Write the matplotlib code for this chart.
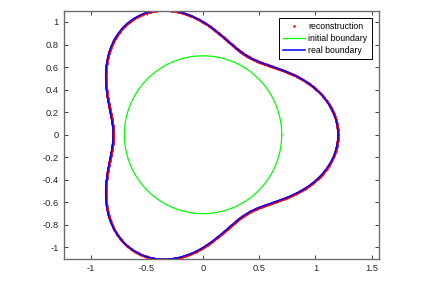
import numpy as np
import matplotlib
matplotlib.use("Agg")
import matplotlib.pyplot as plt

# Values
circle_radius = 0.7          # initial boundary (circle centred at origin)
base_radius = 1.0            # real boundary: mean radius
lobe_amplitude = 0.2         # real boundary: lobe amplitude
n_lobes = 3                  # real boundary: number of lobes
x_ticks = [-1, -0.5, 0, 0.5, 1, 1.5]
x_tick_labels = ["-1", "-0.5", "0", "0.5", "1", "1.5"]
y_ticks = [-1, -0.8, -0.6, -0.4, -0.2, 0, 0.2, 0.4, 0.6, 0.8, 1]
y_tick_labels = ["-1", "-0.8", "-0.6", "-0.4", "-0.2", "0", "0.2", "0.4", "0.6", "0.8", "1"]
legend_labels = ["reconstruction", "initial boundary", "real boundary"]

plt.rcParams['font.family'] = ['Liberation Sans', 'DejaVu Sans']

t = np.linspace(0, 2 * np.pi, 1200)
r_real = base_radius + lobe_amplitude * np.cos(n_lobes * t)
x_real, y_real = r_real * np.cos(t), r_real * np.sin(t)
x_init, y_init = circle_radius * np.cos(t), circle_radius * np.sin(t)

fig = plt.figure(figsize=(4.43, 2.87), dpi=100)
ax = fig.add_axes([0.145, 0.0986, 0.7105, 0.8641])

ax.plot(x_real, y_real, '.', color=(1, 0, 0), markersize=1.4, label=legend_labels[0])
ax.plot(x_init, y_init, '-', color=(0, 1, 0), linewidth=0.9, label=legend_labels[1])
ax.plot(x_real, y_real, '-', color=(0, 0, 1), linewidth=1.1, label=legend_labels[2])

ax.set_xlim(-1.235, 1.565)
ax.set_ylim(-1.1, 1.1)
ax.set_xticks(x_ticks)
ax.set_xticklabels(x_tick_labels)
ax.set_yticks(y_ticks)
ax.set_yticklabels(y_tick_labels)
ax.tick_params(direction='in', length=3, width=0.6, top=True, right=True,
               labelsize=6.7, colors='#262626', pad=4)
for s in ax.spines.values():
    s.set_color('#6e6e6e')
    s.set_linewidth(1.0)

leg = ax.legend(loc='upper right', fontsize=6.3, frameon=True, fancybox=False,
                edgecolor='black', framealpha=1, borderpad=0.45, labelspacing=0.32,
                handlelength=2.6, handletextpad=0.35, borderaxespad=0.85,
                numpoints=1, markerscale=1.2)
leg.get_frame().set_linewidth(0.7)

fig.savefig("out.png", dpi=100)
